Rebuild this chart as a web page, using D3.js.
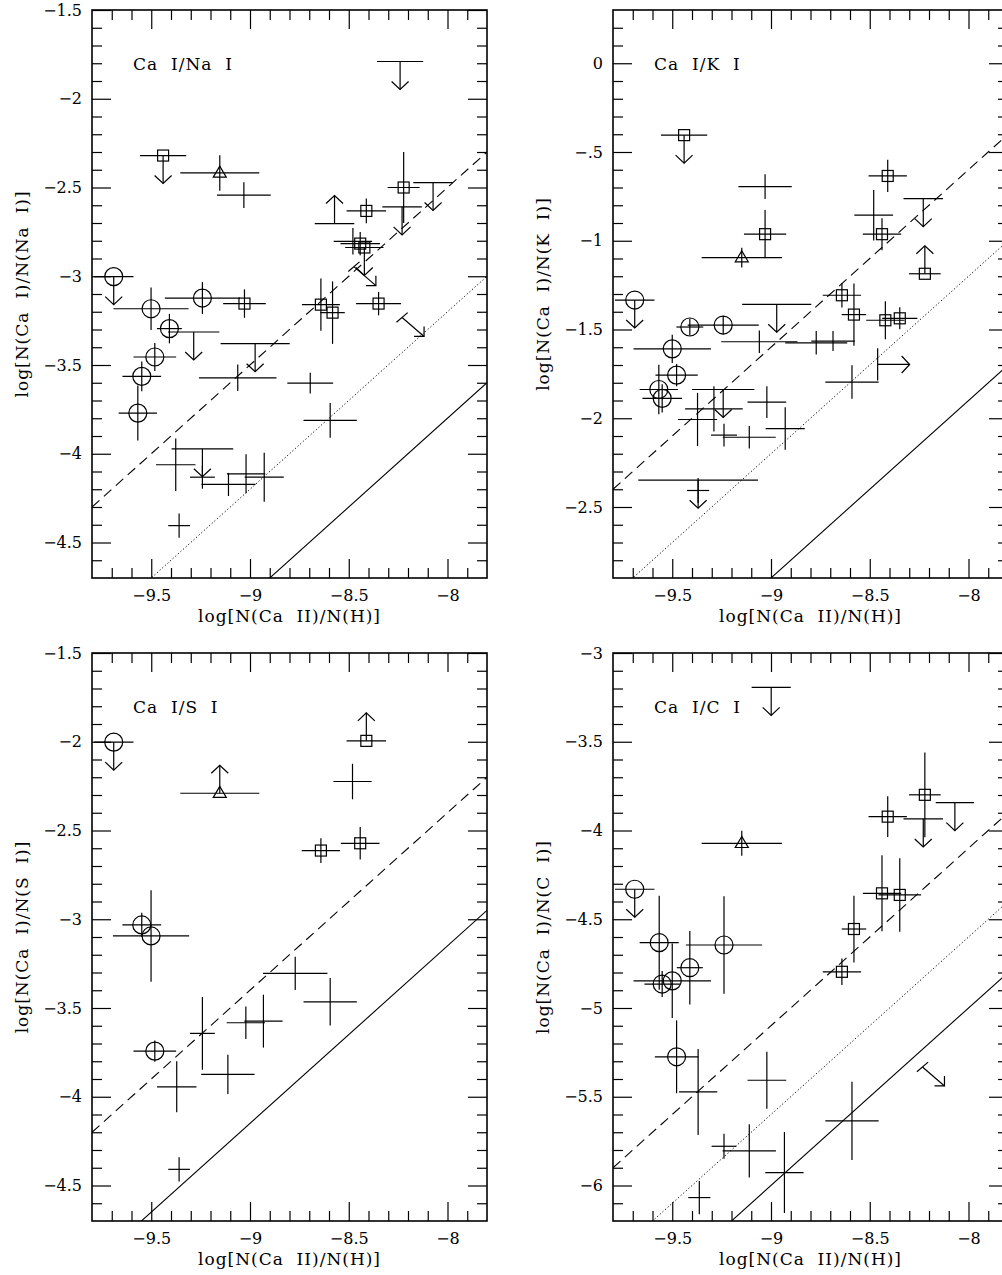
<!DOCTYPE html>
<html>
<head>
<meta charset="utf-8">
<script src="https://d3js.org/d3.v7.min.js"></script>
<style>
  body { margin: 0; background: #fff; }
  svg { display: block; }
</style>
</head>
<body>
<svg id="chart" width="1002" height="1275"></svg>
<script>
// shared x axis: log[N(Ca II)/N(H)]
const xDomain = [-9.8, -7.8];
const xTicks = [-9.5, -9, -8.5, -8];

// y axis ranges and tick labels per panel
const naDomain = [-4.7, -1.5];
const naTicks = [-1.5, -2, -2.5, -3, -3.5, -4, -4.5];
const kDomain = [-2.9, 0.3];
const kTicks = [0, -0.5, -1, -1.5, -2, -2.5];
const kTickLabels = ["0", "\u2212.5", "\u22121", "\u22121.5", "\u22122", "\u22122.5"];
const sDomain = [-4.7, -1.5];
const sTicks = [-1.5, -2, -2.5, -3, -3.5, -4, -4.5];
const cDomain = [-6.2, -3];
const cTicks = [-3, -3.5, -4, -4.5, -5, -5.5, -6];

// reference lines y = x + c  (solid, dotted, dashed); null = not drawn
const naLines = [4.2, 4.8, 5.5];
const kLines = [6.1, 6.8, 7.4];
const sLines = [4.85, null, 5.6];
const cLines = [3.0, 3.4, 3.9];

// points: x, y, xerr, yerr, marker (o circle, s square, t triangle, "" none), limit
const naPoints = [
  [-8.24, -1.79, 0.117, 0, "", "down"],
  [-9.44, -2.32, 0.117, 0, "s", "down"],
  [-9.153, -2.418, 0.2, 0.1, "t", ""],
  [-9.031, -2.543, 0.136, 0.073, "", ""],
  [-8.572, -2.703, 0.1, 0, "", "up"],
  [-8.411, -2.632, 0.1, 0.07, "s", ""],
  [-8.222, -2.5, 0.081, 0.2, "s", ""],
  [-8.23, -2.609, 0.1, 0, "", "down"],
  [-8.073, -2.472, 0.1, 0, "", "down"],
  [-8.479, -2.803, 0.097, 0.075, "", ""],
  [-8.442, -2.816, 0.1, 0.065, "s", ""],
  [-8.421, -2.838, 0.097, 0, "s", "down"],
  [-8.474, -2.946, 0, 0, "", "diag"],
  [-9.69, -3.002, 0.1, 0, "o", "down"],
  [-9.501, -3.183, 0.19, 0.12, "o", ""],
  [-9.241, -3.123, 0.19, 0.09, "o", ""],
  [-9.028, -3.154, 0.108, 0.08, "s", ""],
  [-8.641, -3.16, 0.096, 0.147, "s", ""],
  [-8.582, -3.205, 0.062, 0.176, "s", ""],
  [-8.349, -3.154, 0.114, 0.066, "s", ""],
  [-8.23, -3.232, 0, 0, "", "diag"],
  [-9.285, -3.314, 0.13, 0, "", "down"],
  [-9.408, -3.295, 0.063, 0.083, "o", ""],
  [-9.482, -3.455, 0.108, 0.079, "o", ""],
  [-9.548, -3.564, 0.098, 0.084, "o", ""],
  [-9.568, -3.771, 0.097, 0.155, "o", ""],
  [-8.974, -3.38, 0.175, 0, "", "down"],
  [-9.062, -3.572, 0.196, 0.075, "", ""],
  [-8.695, -3.602, 0.116, 0.059, "", ""],
  [-8.594, -3.812, 0.135, 0.098, "", ""],
  [-9.376, -4.062, 0.1, 0.148, "", ""],
  [-9.241, -3.972, 0.156, 0, "", "down"],
  [-9.241, -4.132, 0.063, 0.065, "", ""],
  [-9.109, -4.173, 0.137, 0.065, "", ""],
  [-9.02, -4.113, 0.097, 0.11, "", ""],
  [-8.928, -4.132, 0.099, 0.138, "", ""],
  [-9.359, -4.405, 0.055, 0.068, "", ""]
];

const kPoints = [
  [-9.44, -0.405, 0.117, 0, "s", "down"],
  [-9.03, -0.695, 0.135, 0.07, "", ""],
  [-9.03, -0.963, 0.107, 0.136, "s", ""],
  [-9.148, -1.095, 0.203, 0.056, "t", ""],
  [-8.409, -0.635, 0.097, 0.091, "s", ""],
  [-8.48, -0.856, 0.098, 0.142, "", ""],
  [-8.438, -0.963, 0.097, 0.09, "s", ""],
  [-8.229, -0.763, 0.1, 0, "", "down"],
  [-8.221, -1.186, 0.08, 0, "s", "up"],
  [-9.69, -1.334, 0.1, 0, "o", "down"],
  [-8.641, -1.307, 0.097, 0.069, "s", ""],
  [-8.58, -1.416, 0.062, 0.175, "s", ""],
  [-8.421, -1.448, 0.097, 0.107, "s", ""],
  [-8.348, -1.437, 0.089, 0.062, "s", ""],
  [-8.971, -1.358, 0.175, 0, "", "down"],
  [-9.411, -1.486, 0.068, 0.047, "o", ""],
  [-9.242, -1.475, 0.18, 0.052, "o", ""],
  [-9.5, -1.609, 0.196, 0.08, "o", ""],
  [-9.478, -1.757, 0.107, 0.063, "o", ""],
  [-9.568, -1.838, 0.097, 0.14, "o", ""],
  [-9.551, -1.888, 0.1, 0.08, "o", ""],
  [-9.059, -1.569, 0.193, 0.064, "", ""],
  [-8.771, -1.575, 0.157, 0.066, "", ""],
  [-8.686, -1.565, 0.11, 0.056, "", ""],
  [-8.46, -1.697, 0, 0.091, "", "right"],
  [-8.59, -1.796, 0.135, 0.094, "", ""],
  [-9.242, -1.838, 0.158, 0, "", "down"],
  [-9.021, -1.909, 0.098, 0.089, "", ""],
  [-9.289, -1.947, 0.146, 0.127, "", ""],
  [-9.372, -2.007, 0.099, 0.15, "", ""],
  [-9.238, -2.095, 0.066, 0.064, "", ""],
  [-9.11, -2.107, 0.134, 0.063, "", ""],
  [-8.928, -2.058, 0.099, 0.12, "", ""],
  [-9.369, -2.349, 0.303, 0, "", "down"],
  [-9.369, -2.407, 0.056, 0.07, "", ""]
];

const sPoints = [
  [-9.69, -2.002, 0.1, 0, "o", "down"],
  [-9.153, -2.29, 0.2, 0, "t", "up"],
  [-8.411, -1.995, 0.1, 0, "s", "up"],
  [-8.481, -2.224, 0.097, 0.1, "", ""],
  [-8.641, -2.613, 0.097, 0.07, "s", ""],
  [-8.442, -2.572, 0.098, 0.092, "s", ""],
  [-9.548, -3.032, 0.098, 0.068, "o", ""],
  [-9.501, -3.094, 0.193, 0.258, "o", ""],
  [-9.482, -3.743, 0.108, 0.06, "o", ""],
  [-8.771, -3.305, 0.163, 0.094, "", ""],
  [-8.594, -3.465, 0.135, 0.134, "", ""],
  [-9.021, -3.583, 0.097, 0.092, "", ""],
  [-8.932, -3.574, 0.097, 0.149, "", ""],
  [-9.241, -3.643, 0.063, 0.205, "", ""],
  [-9.112, -3.874, 0.135, 0.11, "", ""],
  [-9.371, -3.944, 0.1, 0.144, "", ""],
  [-9.359, -4.409, 0.055, 0.068, "", ""]
];

const cPoints = [
  [-8.999, -3.194, 0.099, 0, "", "down"],
  [-9.148, -4.072, 0.203, 0.07, "t", ""],
  [-8.409, -3.922, 0.097, 0.115, "s", ""],
  [-8.221, -3.799, 0.08, 0.239, "s", ""],
  [-8.229, -3.935, 0.1, 0, "", "down"],
  [-8.069, -3.843, 0.097, 0, "", "down"],
  [-8.438, -4.354, 0.097, 0.214, "s", ""],
  [-8.348, -4.363, 0.108, 0.207, "s", ""],
  [-8.58, -4.555, 0.062, 0.188, "s", ""],
  [-8.641, -4.796, 0.097, 0.075, "s", ""],
  [-9.69, -4.331, 0.1, 0, "o", "down"],
  [-9.566, -4.632, 0.099, 0.265, "o", ""],
  [-9.238, -4.645, 0.193, 0.275, "o", ""],
  [-9.411, -4.773, 0.066, 0.207, "o", ""],
  [-9.5, -4.847, 0.196, 0.21, "o", ""],
  [-9.551, -4.865, 0.09, 0.073, "o", ""],
  [-9.478, -5.275, 0.11, 0.205, "o", ""],
  [-9.369, -5.473, 0.097, 0.242, "", ""],
  [-9.021, -5.407, 0.098, 0.16, "", ""],
  [-8.233, -5.332, 0, 0, "", "diag"],
  [-8.59, -5.636, 0.135, 0.221, "", ""],
  [-9.238, -5.779, 0.063, 0.07, "", ""],
  [-9.11, -5.805, 0.135, 0.15, "", ""],
  [-8.932, -5.927, 0.097, 0.228, "", ""],
  [-9.363, -6.068, 0.056, 0.094, "", ""]
];

const sp = "\u00a0\u00a0";
const minus = v => (v < 0 ? "\u2212" : "") + Math.abs(v);

const panels = [
  { label: `Ca${sp}I/Na${sp}I`, ylab: `log[N(Ca${sp}I)/N(Na${sp}I)]`, yDomain: naDomain, yTicks: naTicks, yFmt: minus, lines: naLines, points: naPoints, left: 92, top: 10 },
  { label: `Ca${sp}I/K${sp}I`, ylab: `log[N(Ca${sp}I)/N(K${sp}I)]`, yDomain: kDomain, yTicks: kTicks, yFmt: (d, i) => kTickLabels[i], lines: kLines, points: kPoints, left: 613, top: 10 },
  { label: `Ca${sp}I/S${sp}I`, ylab: `log[N(Ca${sp}I)/N(S${sp}I)]`, yDomain: sDomain, yTicks: sTicks, yFmt: minus, lines: sLines, points: sPoints, left: 92, top: 653 },
  { label: `Ca${sp}I/C${sp}I`, ylab: `log[N(Ca${sp}I)/N(C${sp}I)]`, yDomain: cDomain, yTicks: cTicks, yFmt: minus, lines: cLines, points: cPoints, left: 613, top: 653 }
];

const W = 395, H = 568;
const FONT = "'DejaVu Serif', serif";
const lineStyles = ["none", "1.2,2.3", "10,6"];
const svg = d3.select("#chart");

function minorTicks(domain, majors) {
  const lo = Math.ceil(domain[0] * 10 + 1e-6), hi = Math.floor(domain[1] * 10 - 1e-6);
  return d3.range(lo, hi + 1).map(v => v / 10).filter(v => !majors.some(m => Math.abs(m - v) < 1e-6));
}

function styleAxis(sel) {
  sel.select(".domain").remove();
  sel.selectAll(".tick line").attr("stroke", "#000").attr("stroke-width", 1.2);
  sel.selectAll("text").attr("font-family", FONT).attr("font-size", 16).attr("fill", "#000");
}

panels.forEach((p, pi) => {
  const x = d3.scaleLinear().domain(xDomain).range([p.left, p.left + W]);
  const y = d3.scaleLinear().domain(p.yDomain).range([p.top + H, p.top]);
  const g = svg.append("g");

  const clipId = "clip" + pi;
  svg.append("clipPath").attr("id", clipId)
    .append("rect").attr("x", p.left).attr("y", p.top).attr("width", W).attr("height", H);

  // ticks on all four sides, pointing inward
  const xMin = minorTicks(xDomain, xTicks);
  const yMin = minorTicks(p.yDomain, p.yTicks);
  g.append("g").attr("transform", `translate(0,${p.top + H})`)
    .call(d3.axisBottom(x).tickValues(xTicks).tickSize(-19).tickPadding(12).tickFormat(minus)).call(styleAxis);
  g.append("g").attr("transform", `translate(0,${p.top + H})`)
    .call(d3.axisBottom(x).tickValues(xMin).tickSize(-10).tickFormat("")).call(styleAxis);
  g.append("g").attr("transform", `translate(0,${p.top})`)
    .call(d3.axisTop(x).tickValues(xTicks).tickSize(-19).tickFormat("")).call(styleAxis);
  g.append("g").attr("transform", `translate(0,${p.top})`)
    .call(d3.axisTop(x).tickValues(xMin).tickSize(-10).tickFormat("")).call(styleAxis);
  g.append("g").attr("transform", `translate(${p.left},0)`)
    .call(d3.axisLeft(y).tickValues(p.yTicks).tickSize(-19).tickPadding(10).tickFormat(p.yFmt)).call(styleAxis);
  g.append("g").attr("transform", `translate(${p.left},0)`)
    .call(d3.axisLeft(y).tickValues(yMin).tickSize(-10).tickFormat("")).call(styleAxis);
  g.append("g").attr("transform", `translate(${p.left + W},0)`)
    .call(d3.axisRight(y).tickValues(p.yTicks).tickSize(-19).tickFormat("")).call(styleAxis);
  g.append("g").attr("transform", `translate(${p.left + W},0)`)
    .call(d3.axisRight(y).tickValues(yMin).tickSize(-10).tickFormat("")).call(styleAxis);

  g.append("rect").attr("x", p.left).attr("y", p.top).attr("width", W).attr("height", H)
    .attr("fill", "none").attr("stroke", "#000").attr("stroke-width", 1.6);

  // reference lines y = x + c
  const lg = g.append("g").attr("clip-path", `url(#${clipId})`);
  p.lines.forEach((c, i) => {
    if (c === null) return;
    lg.append("line")
      .attr("x1", x(xDomain[0])).attr("y1", y(xDomain[0] + c))
      .attr("x2", x(xDomain[1])).attr("y2", y(xDomain[1] + c))
      .attr("stroke", "#000").attr("stroke-width", i === 1 ? 1 : 1.1)
      .attr("stroke-dasharray", lineStyles[i]);
  });

  // data points
  const dg = g.append("g").attr("stroke", "#000").attr("stroke-width", 1.2).attr("fill", "none");
  const seg = (x1, y1, x2, y2) => dg.append("line").attr("x1", x1).attr("y1", y1).attr("x2", x2).attr("y2", y2);

  p.points.forEach(([vx, vy, ex, ey, marker, limit]) => {
    const cx = x(vx), cy = y(vy);
    if (ex > 0) seg(x(vx - ex), cy, x(vx + ex), cy);
    if (ey > 0) seg(cx, y(vy + ey), cx, y(vy - ey));

    if (marker === "o") dg.append("circle").attr("cx", cx).attr("cy", cy).attr("r", 9);
    if (marker === "s") dg.append("rect").attr("x", cx - 5.5).attr("y", cy - 5.5).attr("width", 11).attr("height", 11);
    if (marker === "t") dg.append("path").attr("d", `M${cx},${cy - 6.8}L${cx - 6.5},${cy + 4.2}L${cx + 6.5},${cy + 4.2}Z`);

    const L = 28, a = 8.5, b = 8;
    if (limit === "down") {
      seg(cx, cy, cx, cy + L);
      dg.append("path").attr("d", `M${cx - a},${cy + L - b}L${cx},${cy + L}L${cx + a},${cy + L - b}`);
    } else if (limit === "up") {
      seg(cx, cy, cx, cy - L);
      dg.append("path").attr("d", `M${cx - a},${cy - L + b}L${cx},${cy - L}L${cx + a},${cy - L + b}`);
    } else if (limit === "right") {
      const R = 32;
      seg(cx, cy, cx + R, cy);
      dg.append("path").attr("d", `M${cx + R - b},${cy - a}L${cx + R},${cy}L${cx + R - b},${cy + a}`);
    } else if (limit === "diag") {
      const tx = cx + 22, ty = cy + 19;
      seg(cx - 5.6, cy + 4.8, cx + 5.6, cy - 4.8);
      seg(cx, cy, tx, ty);
      dg.append("path").attr("d", `M${tx - 10},${ty}L${tx},${ty}L${tx},${ty - 10}`);
    }
  });

  // panel label and axis titles
  g.append("text").attr("x", p.left + 41).attr("y", p.top + 60)
    .attr("font-family", FONT).attr("font-size", 17).attr("letter-spacing", 1)
    .text(p.label);
  g.append("text").attr("x", p.left + W / 2).attr("y", p.top + H + 44)
    .attr("text-anchor", "middle").attr("font-family", FONT).attr("font-size", 17).attr("letter-spacing", 1)
    .text(`log[N(Ca${sp}II)/N(H)]`);
  g.append("text")
    .attr("transform", `translate(${p.left - 64},${p.top + H / 2}) rotate(-90)`)
    .attr("text-anchor", "middle").attr("font-family", FONT).attr("font-size", 17).attr("letter-spacing", 1)
    .text(p.ylab);
});
</script>
</body>
</html>
